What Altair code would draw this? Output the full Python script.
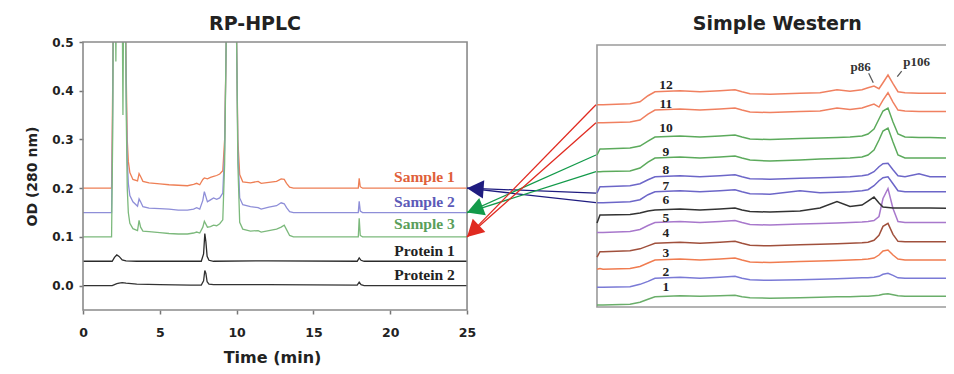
import math
import altair as alt
import pandas as pd

# ---------------- RP-HPLC chromatograms (left panel) ----------------
HPLC_T = [0, 1.86, 1.93, 1.98, 2.1, 2.14, 2.18, 2.55, 2.6, 2.65, 2.75, 2.82, 2.88, 2.95, 3.05,
          3.25, 3.55, 3.65, 3.75, 3.9, 4.3, 5.0, 5.6, 6.2, 6.8, 7.2, 7.4, 7.6, 7.8, 7.9, 8.1,
          8.3, 8.5, 8.7, 8.9, 9.1, 9.22, 9.3, 9.36, 9.96, 10.02, 10.08, 10.2, 10.4, 10.9, 11.4,
          11.6, 12.1, 12.6, 12.9, 13.1, 13.25, 13.45, 13.7, 17.92, 17.98, 18.05, 18.2, 25]
SAMPLE1_OD = [0.2, 0.2, 0.4, 0.6, 0.6, 0.6, 0.6, 0.6, 0.6, 0.6, 0.6, 0.42, 0.3, 0.255, 0.232,
              0.218, 0.215, 0.23, 0.224, 0.214, 0.211, 0.209, 0.207, 0.206, 0.205, 0.208, 0.21,
              0.207, 0.218, 0.221, 0.219, 0.222, 0.224, 0.226, 0.229, 0.236, 0.3, 0.45, 0.6,
              0.6, 0.45, 0.3, 0.228, 0.213, 0.211, 0.214, 0.21, 0.212, 0.214, 0.219, 0.218,
              0.21, 0.202, 0.2, 0.2, 0.22, 0.203, 0.2, 0.2]
SAMPLE2_OD = [0.15, 0.15, 0.35, 0.6, 0.6, 0.6, 0.6, 0.6, 0.6, 0.6, 0.6, 0.38, 0.26, 0.21, 0.185,
              0.172, 0.163, 0.178, 0.172, 0.162, 0.159, 0.158, 0.157, 0.155, 0.155, 0.157, 0.16,
              0.157, 0.175, 0.193, 0.172, 0.176, 0.18, 0.177, 0.18, 0.19, 0.28, 0.45, 0.6,
              0.6, 0.45, 0.28, 0.18, 0.166, 0.162, 0.16, 0.157, 0.161, 0.164, 0.17, 0.168,
              0.16, 0.152, 0.15, 0.15, 0.173, 0.153, 0.15, 0.15]
SAMPLE3_OD = [0.1, 0.1, 0.3, 0.6, 0.6, 0.46, 0.6, 0.6, 0.35, 0.6, 0.6, 0.34, 0.2, 0.15, 0.128,
              0.117, 0.113, 0.134, 0.12, 0.112, 0.111, 0.109, 0.107, 0.106, 0.106, 0.108, 0.11,
              0.108, 0.12, 0.132, 0.12, 0.121, 0.124, 0.123, 0.127, 0.135, 0.25, 0.45, 0.6,
              0.6, 0.45, 0.25, 0.13, 0.116, 0.112, 0.113, 0.11, 0.113, 0.116, 0.12, 0.124,
              0.115, 0.103, 0.1, 0.1, 0.138, 0.103, 0.1, 0.1]
PROT_T = [0, 1.9, 2.05, 2.2, 2.35, 2.55, 2.8, 3.5, 5, 7.0, 7.7, 7.85, 7.93, 8.0, 8.08, 8.2,
          8.5, 12, 17.85, 17.98, 18.1, 18.3, 25]
PROTEIN1_OD = [0.05, 0.05, 0.058, 0.063, 0.06, 0.053, 0.051, 0.05, 0.05, 0.05, 0.05, 0.065,
               0.107, 0.09, 0.06, 0.052, 0.05, 0.051, 0.05, 0.057, 0.052, 0.05, 0.05]
PROTEIN2_OD = [0.0, 0.0, 0.002, 0.004, 0.005, 0.006, 0.005, 0.003, 0.002, 0.001, 0.001, 0.01,
               0.031, 0.025, 0.008, 0.003, 0.002, 0.002, 0.001, 0.007, 0.002, 0.0, 0.0]

HPLC_NAMES = ["Sample 1", "Sample 2", "Sample 3", "Protein 1", "Protein 2"]
HPLC_LINE_COLORS = ["#EE7F55", "#8E8ED8", "#7CB97C", "#2B2B2B", "#333333"]
HPLC_TEXT_COLORS = ["#E0603A", "#5C5AB8", "#5A9E5A", "#222222", "#222222"]
HPLC_LABEL_X = 24.2
HPLC_LABEL_Y = [0.2235, 0.171, 0.126, 0.072, 0.022]

X_TICKS = [0, 5, 10, 15, 20, 25]
Y_TICKS = [0.0, 0.1, 0.2, 0.3, 0.4, 0.5]
X_MAX = 56.18
Y_DOMAIN = [-0.05, 0.5]
PLOT_W, PLOT_H = 863, 268

# ---------------- Simple Western electropherograms (right panel) ----------------
SW_POS = [0, 3, 6, 33, 43, 51, 58, 83, 103, 123, 138, 145, 153, 173, 203, 223, 240, 253,
          265, 271, 277, 282, 286, 291, 296, 301, 308, 322, 333, 349]
SW_LANES = [1, 2, 3, 4, 5, 6, 7, 8, 9, 10, 11, 12]
SW_BASE = [10.3, 28.7, 47, 63.7, 84.5, 97, 115.3, 130.3, 149, 170, 197, 215.3]
SW_PROFILE = [
    [-8.3, -8.3, -8.3, -7.5, -5.5, -2.5, 0, 1, 0.5, 1, 1.5, 0, -1, -1.5, -1, -0.5, 0, 0, 0.5, 0.5, 1, 1.5, 2.5, 3, 2, 1, 0.5, 0.5, 0.5, 0.5],
    [-9, -9, -9, -8.5, -6, -3, 0, 1, 0, 1, 2, 0, -1.5, -2, -1.5, -1, -0.5, 0, 0.5, 0.5, 1, 2, 4, 5, 3, 0.5, 0, 0, 0, 0],
    [-9.3, -8.5, -9.3, -8.5, -6.5, -3, 0, 1, 0, 1, 2, 0, -2, -2.5, -1.5, -1, -0.5, 0, 0.5, 1, 2, 5, 9, 10, 5, 1, 0, 0, 0, 0],
    [-13.7, -8.4, -8.4, -7.5, -5.5, -2.5, 0, 1, 0, 1, 2, 0, -2, -2.5, -1.5, -1, -0.5, 0, 0.5, 1, 3, 8, 17, 20, 9, 2, 1.6, 1.6, 1.6, 1.6],
    [-10, -10, -10, -9, -7, -3, 0, 1, 0, 1, 2, 0, -2, -2.5, -1.5, -1, -0.5, 0, 0.5, 1, 2, 6, 24, 34, 14, 1, 0, 0, 0, 0],
    [-13, -5, -5, -4.5, -3, -1, 0, 1, 0, 1, 2, 0, -1.5, -2, -1, 2, 8.5, 3.5, 5, 9, 13, 7, 3, 2.5, 2, 2, 2, 2, 2, 1.7],
    [-11, -11, -11, -10, -8, -3, 0, 1, 0, 1, 2, 0, -2, -2.5, 1, -1, -0.5, 0, 1, 2, 6, 11, 14, 15, 8, 1, 0, 0, 0, 0],
    [-16.3, -10, -10, -9, -7, -3, 0, 1, 0, 1, 2, 0, -2, -2.5, -1.5, -1, -0.5, 0, 1, 2, 5, 10, 13, 13.4, 7, 1, 0, 3, 0, 0],
    [-13.7, -13.7, -13.5, -13, -10, -4, 0, 1, 0, 1, 2, 0, -2, -3, -2, -1, -0.5, 0, 1, 3, 8, 18, 27, 30, 16, 3, 0, 0, 0, 0],
    [-18, -12, -12, -11, -9, -4, 0, 1, 0, 1, 2, 0, -2, -2.5, -1.5, -1, -0.5, 0, 1, 3, 8, 18, 26, 29, 15, 3, 0, -0.5, -0.5, -1],
    [-12.7, -12.7, -12.7, -12, -10, -4, 0, 1, 0, 1, 2, 0, -2, -2.5, -1.5, -1, 2, 0.5, 2, 4, 6, 3, 10, 17.3, 8, 0, -1, -1.5, -1.5, -1.5],
    [-13, -13, -13, -12, -10, -4, 0, 1, 0, 1, 2, 0, -2, -2.5, -1.5, -1, 2, 0.5, 2, 4, 5.7, 3, 9, 16.7, 8, 0, -1, -1.5, -1.5, -1.5],
]
SW_COLORS = ["#6AAE6A", "#7A7AD6", "#F07C50", "#A0503C", "#A878CC", "#333333",
             "#6C66C8", "#6C66C8", "#5CAA5C", "#5CAA5C", "#F08060", "#F08060"]
SW_LABEL_U = 69
SW_LABEL_V = [20.3, 35.3, 54.3, 73.7, 88.7, 107, 121.5, 137, 155.3, 178.7, 203, 222]
SW_PEAK_NAMES = ["p86", "p106"]
SW_PEAK_LABEL_U = [263.7, 319.7]
SW_PEAK_LABEL_V = [240.3, 244.7]
SW_LEADER_U = [(271.7, 276.3), (304.7, 300.3)]
SW_LEADER_V = [(233.7, 224.3), (236, 230.3)]
SW_BOX_U = [0, 352]
SW_BOX_V = [0, 262]
# placement of the right panel on the shared plotting axes
SW_X0, SW_XU = 33.46, X_MAX / PLOT_W
SW_Y0, SW_YU = -0.0439, (Y_DOMAIN[1] - Y_DOMAIN[0]) / PLOT_H

# arrows: (lane, target sample, colour)
ARROWS = [(8, "Sample 1", "#1F1C80"), (7, "Sample 1", "#1F1C80"),
          (10, "Sample 2", "#139A4A"), (9, "Sample 2", "#139A4A"),
          (12, "Sample 3", "#E02A20"), (11, "Sample 3", "#E02A20")]
ARROW_START_U = -1
ARROW_TIP_X = 25

TITLES = ["RP-HPLC", "Simple Western"]
TITLE_X = [11.2, 45.2]
TITLE_Y = 0.537


def swx(u):
    return SW_X0 + u * SW_XU


def swy(v):
    return SW_Y0 + v * SW_YU


# ---------------- data tables ----------------
rows = []
for name, col, od in zip(HPLC_NAMES[:3], HPLC_LINE_COLORS[:3], [SAMPLE1_OD, SAMPLE2_OD, SAMPLE3_OD]):
    for t, v in zip(HPLC_T, od):
        rows.append({"x": t, "y": v, "series": name, "c": col})
for name, col, od in zip(HPLC_NAMES[3:], HPLC_LINE_COLORS[3:], [PROTEIN1_OD, PROTEIN2_OD]):
    for t, v in zip(PROT_T, od):
        rows.append({"x": t, "y": v, "series": name, "c": col})
hplc_df = pd.DataFrame(rows)

hplc_lab = pd.DataFrame({"x": [HPLC_LABEL_X] * 5, "y": HPLC_LABEL_Y,
                         "label": HPLC_NAMES, "c": HPLC_TEXT_COLORS})

sw_rows = []
for lane, base, prof, col in zip(SW_LANES, SW_BASE, SW_PROFILE, SW_COLORS):
    for u, off in zip(SW_POS, prof):
        sw_rows.append({"x": swx(u), "y": swy(base + off), "lane": str(lane), "c": col})
sw_df = pd.DataFrame(sw_rows)

sw_lab = pd.DataFrame({"x": [swx(SW_LABEL_U)] * 12, "y": [swy(v) for v in SW_LABEL_V],
                       "label": [str(l) for l in SW_LANES]})
peak_lab = pd.DataFrame({"x": [swx(u) for u in SW_PEAK_LABEL_U],
                         "y": [swy(v) for v in SW_PEAK_LABEL_V], "label": SW_PEAK_NAMES})
leaders = pd.DataFrame({"x": [swx(a) for a, b in SW_LEADER_U], "x2": [swx(b) for a, b in SW_LEADER_U],
                        "y": [swy(a) for a, b in SW_LEADER_V], "y2": [swy(b) for a, b in SW_LEADER_V]})

box_df = pd.DataFrame({"x": [0, swx(SW_BOX_U[0])], "x2": [25, swx(SW_BOX_U[1])],
                       "y": [Y_DOMAIN[0], swy(SW_BOX_V[0])], "y2": [Y_DOMAIN[1], swy(SW_BOX_V[1])],
                       "c": ["#8A8A8A", "#9A9A9A"]})

sample_end = {"Sample 1": SAMPLE1_OD[-1], "Sample 2": SAMPLE2_OD[-1], "Sample 3": SAMPLE3_OD[-1]}
arr_rows = []
for lane, target, col in ARROWS:
    i = SW_LANES.index(lane)
    start_v = SW_BASE[i] + SW_PROFILE[i][0]
    arr_rows.append({"x": swx(ARROW_START_U), "y": swy(start_v),
                     "x2": ARROW_TIP_X, "y2": sample_end[target], "c": col})
arr_df = pd.DataFrame(arr_rows)

px_x = PLOT_W / X_MAX
px_y = PLOT_H / (Y_DOMAIN[1] - Y_DOMAIN[0])
head_rows = []
for col in ["#1F1C80", "#139A4A", "#E02A20"]:
    sub = arr_df[arr_df["c"] == col]
    dx = ((sub["x2"] - sub["x"]) * px_x).mean()
    dy = (-(sub["y2"] - sub["y"]) * px_y).mean()
    ang = math.degrees(math.atan2(dx, -dy)) % 360
    head_rows.append({"x": sub["x2"].iloc[0], "y": sub["y2"].iloc[0], "c": col, "ang": ang})
head_df = pd.DataFrame(head_rows)

title_df = pd.DataFrame({"x": TITLE_X, "y": [TITLE_Y] * 2, "label": TITLES})

# ---------------- encodings ----------------
X_ENC = alt.X("x:Q", scale=alt.Scale(domain=[0, X_MAX], nice=False, zero=False),
              axis=alt.Axis(values=X_TICKS, domain=False, grid=False, tickSize=4,
                            labelPadding=12, labelFlush=False, title="Time (min)",
                            titleX=189, titleY=47, titleBaseline="middle",
                            titleFontSize=16, labelFontSize=12.5, format="d"))
Y_ENC = alt.Y("y:Q", scale=alt.Scale(domain=Y_DOMAIN, nice=False, zero=False),
              axis=alt.Axis(values=Y_TICKS, domain=False, grid=False, tickSize=4,
                            labelPadding=6, format=".1f", title="OD (280 nm)",
                            titleFontSize=14, titlePadding=12, labelFontSize=12))

FONT_SANS = "DejaVu Sans"
FONT_SERIF = "Liberation Serif"

hplc_lines = alt.Chart(hplc_df).mark_line(clip=True, strokeWidth=1.3).encode(
    x=X_ENC, y=Y_ENC, detail="series:N", color=alt.Color("c:N", scale=None),
)
hplc_text = alt.Chart(hplc_lab).mark_text(align="right", baseline="middle", font=FONT_SERIF,
                                          fontWeight="bold", fontSize=15.5).encode(
    x=X_ENC, y=Y_ENC, text="label:N", color=alt.Color("c:N", scale=None))

frames = alt.Chart(box_df).mark_rect(fillOpacity=0, strokeWidth=1.6).encode(
    x=X_ENC, x2="x2", y=Y_ENC, y2="y2", stroke=alt.Stroke("c:N", scale=None))

sw_lines = alt.Chart(sw_df).mark_line(strokeWidth=1.5).encode(
    x=X_ENC, y=Y_ENC, detail="lane:N", color=alt.Color("c:N", scale=None),
)
sw_text = alt.Chart(sw_lab).mark_text(align="center", baseline="middle", font=FONT_SERIF,
                                      fontWeight="bold", fontSize=13.5, color="#222222").encode(
    x=X_ENC, y=Y_ENC, text="label:N")
peak_text = alt.Chart(peak_lab).mark_text(align="center", baseline="middle", font=FONT_SERIF,
                                          fontWeight="bold", fontSize=13, color="#333333").encode(
    x=X_ENC, y=Y_ENC, text="label:N")
leader_rules = alt.Chart(leaders).mark_rule(color="#555555", strokeWidth=1.2).encode(
    x=X_ENC, x2="x2", y=Y_ENC, y2="y2")

arrow_lines = alt.Chart(arr_df).mark_rule(strokeWidth=1.3).encode(
    x=X_ENC, x2="x2", y=Y_ENC, y2="y2", color=alt.Color("c:N", scale=None))
arrow_heads = alt.Chart(head_df).mark_point(
    shape="M0,0L-0.55,1L0.55,1Z", filled=True, size=1100, opacity=1).encode(
    x=X_ENC, y=Y_ENC, color=alt.Color("c:N", scale=None), angle=alt.Angle("ang:Q", scale=None))

titles = alt.Chart(title_df).mark_text(align="center", baseline="middle", font=FONT_SANS,
                                       fontWeight="bold", fontSize=19, color="#222222").encode(
    x=X_ENC, y=Y_ENC, text="label:N")

chart = alt.layer(
    hplc_lines, frames, sw_lines, hplc_text, sw_text, peak_text, leader_rules,
    arrow_lines, arrow_heads, titles,
).properties(
    width=PLOT_W, height=PLOT_H,
    autosize=alt.AutoSizeParams(type="none"),
    padding={"left": 75, "top": 34, "right": 0, "bottom": 56},
).configure_view(stroke=None).configure_axis(
    labelFont=FONT_SANS, labelFontWeight="bold", labelColor="#222222",
    titleFont=FONT_SANS, titleFontWeight="bold", titleColor="#222222",
    tickColor="#777777", tickWidth=1.5,
)

chart.save("out.html", embed_options={"renderer": "svg", "actions": False})
